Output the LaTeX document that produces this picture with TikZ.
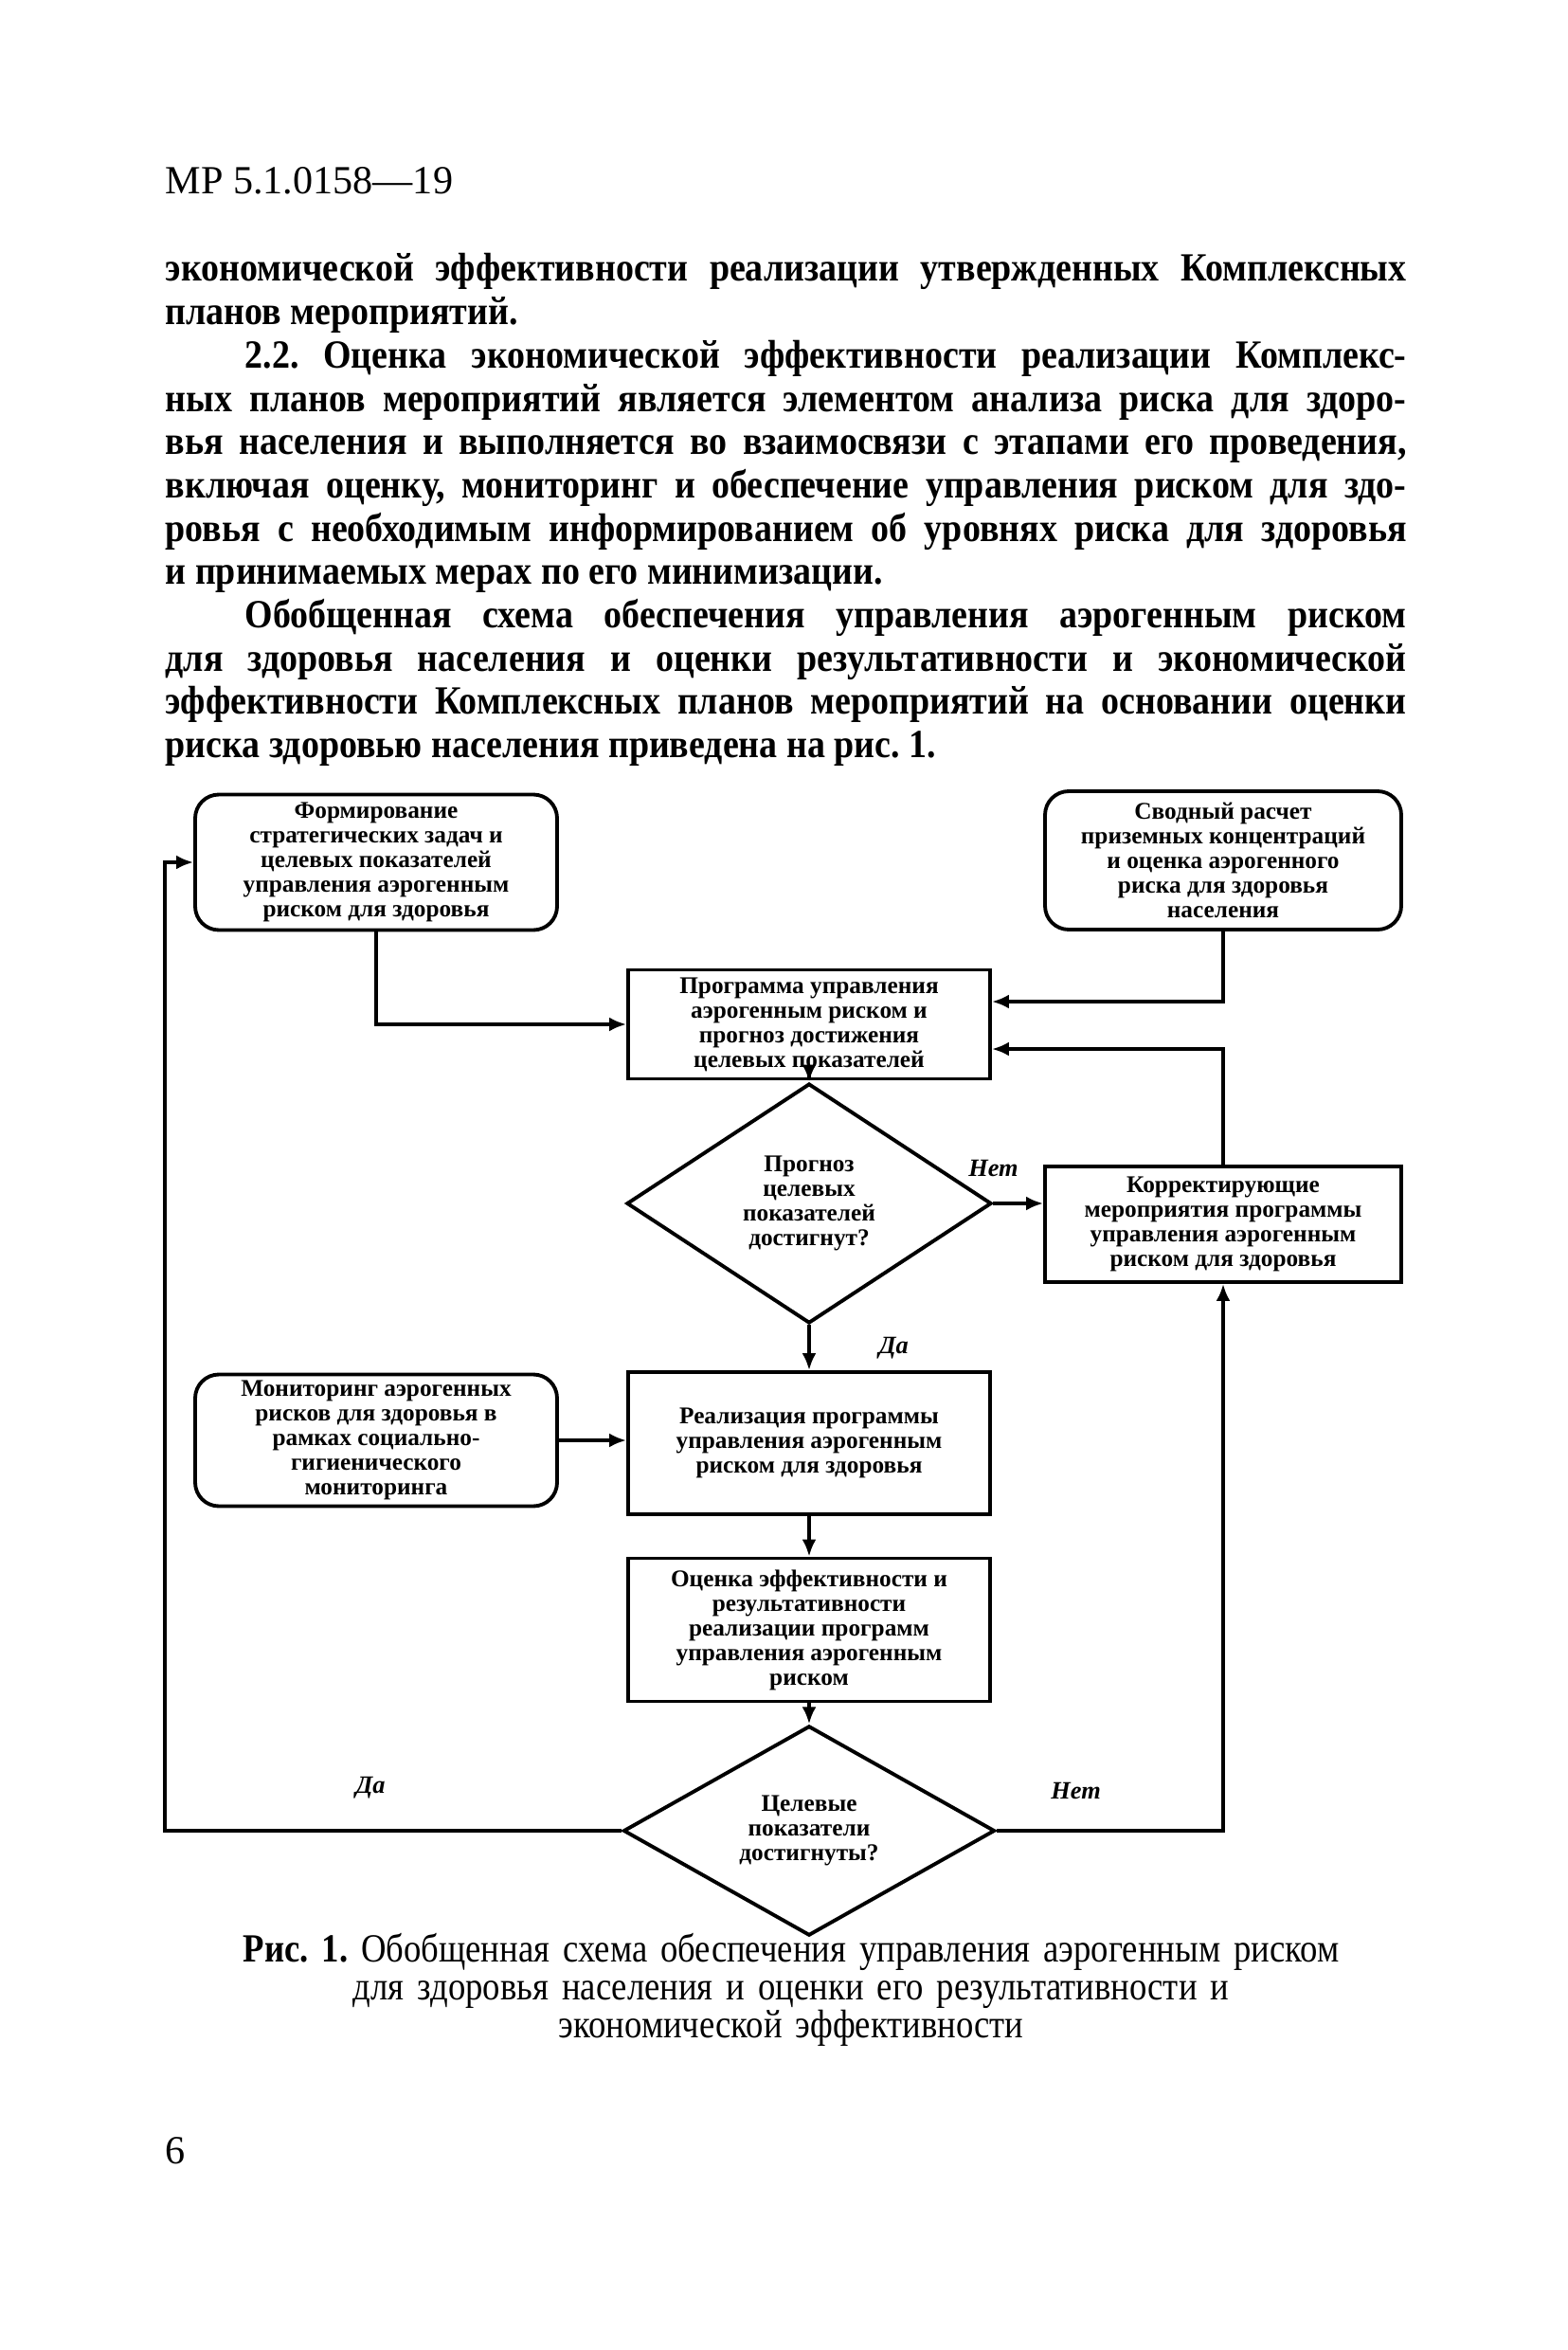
\documentclass[tikz,border=0pt]{standalone}
\usepackage{fontspec}
\setmainfont{Liberation Serif}
\newfontfamily\narrowserif[FakeStretch=0.9]{Liberation Serif}
\newfontfamily\captionserif[FakeStretch=0.87]{Liberation Serif}
\usetikzlibrary{shapes.geometric, arrows.meta, positioning, calc}
\frenchspacing
\newcommand{\boxfont}{\fontsize{7.2}{7.4}\selectfont\bfseries}
\newcommand{\bodyfont}{\narrowserif\fontsize{12}{13}\selectfont\bfseries}

\begin{document}
\begin{tikzpicture}[
    box/.style={draw, line width=1.1pt, minimum width=3.82cm, align=center,
                font=\boxfont, inner sep=1pt},
    rbox/.style={box, rounded corners=2.5mm},
    decision/.style={draw, diamond, line width=1.1pt, align=center,
                     font=\boxfont, inner sep=0pt},
    arrow/.style={-{Latex[length=1.8mm, width=1.5mm]}, line width=1.1pt},
    answer/.style={font=\fontsize{7.5}{8}\selectfont\bfseries\itshape},
    pagetext/.style={inner sep=0pt, font=\fontsize{12}{13}\selectfont}
  ]
    \useasboundingbox (0,0) rectangle (16.55,-24.80);

    % page head and text
    \node[pagetext, anchor=base west] (code) at (1.74,-2.05) {МР 5.1.0158—19};
    \node[anchor=base west, text width=13.10cm, align=justify, inner sep=0pt,
          font=\bodyfont] (para) at (1.74,-2.97)
      {экономической эффективности реализации утвержденных Комплексных\linebreak
       планов мероприятий.\par
       \hspace*{0.84cm}2.2. Оценка экономической эффективности реализации Комплекс-\linebreak
       ных планов мероприятий является элементом анализа риска для здоро-\linebreak
       вья населения и выполняется во взаимосвязи с этапами его проведения,\linebreak
       включая оценку, мониторинг и обеспечение управления риском для здо-\linebreak
       ровья с необходимым информированием об уровнях риска для здоровья\linebreak
       и принимаемых мерах по его минимизации.\par
       \hspace*{0.84cm}Обобщенная схема обеспечения управления аэрогенным риском\linebreak
       для здоровья населения и оценки результативности и экономической\linebreak
       эффективности Комплексных планов мероприятий на основании оценки\linebreak
       риска здоровью населения приведена на рис. 1.};

    % scheme
    \node[rbox, minimum height=1.43cm] (goals) at (3.97,-9.10)
      {Формирование\\стратегических задач и\\целевых показателей\\управления аэрогенным\\риском для здоровья};
    \node[rbox, minimum width=3.76cm, minimum height=1.46cm] (calc) at (12.91,-9.08)
      {Сводный расчет\\приземных концентраций\\и оценка аэрогенного\\риска для здоровья\\населения};
    \node[box, minimum height=1.15cm] (program) at (8.54,-10.81)
      {Программа управления\\аэрогенным риском и\\прогноз достижения\\целевых показателей};
    \node[decision, minimum width=3.85cm, minimum height=2.53cm] (forecast) at (8.54,-12.70)
      {Прогноз\\целевых\\показателей\\достигнут?};
    \node[box, minimum width=3.76cm, minimum height=1.22cm] (correct) at (12.91,-12.92)
      {Корректирующие\\мероприятия программы\\управления аэрогенным\\риском для здоровья};
    \node[rbox, minimum height=1.39cm] (monitor) at (3.97,-15.20)
      {Мониторинг аэрогенных\\рисков для здоровья в\\рамках социально-\\гигиенического\\мониторинга};
    \node[box, minimum height=1.50cm] (realize) at (8.54,-15.23)
      {Реализация программы\\управления аэрогенным\\риском для здоровья};
    \node[box, minimum height=1.51cm] (assess) at (8.54,-17.20)
      {Оценка эффективности и\\результативности\\реализации программ\\управления аэрогенным\\риском};
    \node[decision, minimum width=3.92cm, minimum height=1.79cm] (reached) at (8.54,-19.32)
      {Целевые\\показатели\\достигнуты?};
    \coordinate (loop) at (1.74,0);

    \draw[arrow] (goals.south) |- (program.west);
    \draw[arrow] (calc.south) |- ([yshift=2.4mm]program.east);
    \draw[arrow] (correct.north) |- ([yshift=-2.6mm]program.east);
    \draw[arrow] (program.south) -- (forecast.north);
    \draw[arrow] (forecast.east) -- node[answer, pos=0, above=1.5mm] {Нет}
      (forecast.east -| correct.west);
    \draw[arrow] (forecast.south) -- node[answer, right=6mm] {Да} (realize.north);
    \draw[arrow] (monitor.east) -- (monitor.east -| realize.west);
    \draw[arrow] (realize.south) -- (assess.north);
    \draw[arrow] (assess.south) -- (reached.north);
    \draw[arrow] (reached.east) -| node[answer, pos=0.175, above=2mm] {Нет} (correct.south);
    \draw[arrow] (reached.west) -- node[answer, pos=0.55, above=2mm] {Да}
      (reached.west -| loop) |- (goals.west);

    % caption and page number
    \node[anchor=base, text width=13cm, align=center, inner sep=0pt,
          font=\captionserif\fontsize{12}{11.4}\selectfont] (caption) at (8.35,-20.70)
      {\textbf{Рис. 1.} Обобщенная схема обеспечения управления аэрогенным риском\\
       для здоровья населения и оценки его результативности и\\
       экономической эффективности};
    \node[pagetext, anchor=base west] (pagenum) at (1.74,-22.83) {6};
  \end{tikzpicture}
\end{document}
